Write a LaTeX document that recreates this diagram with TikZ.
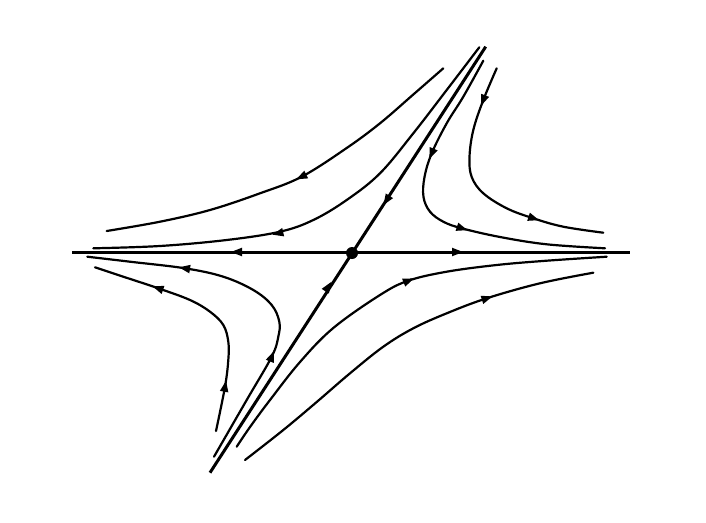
\documentclass[tikz,border=0pt]{standalone}
\begin{document}
\begin{tikzpicture}[x=1pt,y=-1pt,
  traj/.style={line width=2.2pt,line cap=round,line join=round},
  axis/.style={line width=3pt,line cap=butt}]
\newcommand\myarr[3]{\fill[shift={(#1,#2)},rotate=#3] (6,0) -- (-5,4.3) -- (-5,-4.3) -- cycle;}
\useasboundingbox (0,0) rectangle (706,522);
% axes
\coordinate (hl) at (72,252);
\coordinate (hr) at (630,252);
\coordinate (sb) at (210,472.7);
\coordinate (st) at (485.7,46.7);
\coordinate (O) at (352,253);
\draw[axis] (hl) -- (hr);
\draw[axis] (sb) -- (st);
\fill (O) circle (6);
% curve A
\draw[traj] plot[smooth,tension=0.6] coordinates {(443.3,68.3) (413.3,94.5) (380,123.3) (346.7,148) (301.7,176.7) (260,193.3) (210,210) (160,221.7) (106.7,231)};
% curve B
\draw[traj] plot[smooth,tension=0.6] coordinates {(479.3,47.3) (446.7,90) (413.3,133.3) (380,173.3) (346.7,200) (313.3,220) (280,231.7) (226.7,240) (160,246) (93.3,248.3)};
% curve C
\draw[traj] plot[smooth,tension=0.6] coordinates {(483.3,60.7) (463.3,96.7) (446.7,123.3) (431.7,153.3) (424.5,177) (423.5,197) (430,211.7) (443.3,221.7) (461.7,228.3) (500,237) (546.7,244.3) (605,248.3)};
% curve D
\draw[traj] plot[smooth,tension=0.6] coordinates {(496.7,68.3) (483.3,100) (473.3,130) (469.5,157) (471.7,177) (483.3,193.3) (506.7,208.3) (533.3,218.3) (563.3,226.7) (603.3,232.7)};
% curve E
\draw[traj] plot[smooth,tension=0.6] coordinates {(606.7,256.7) (546.7,260.7) (496.7,265) (446.7,271.7) (408.3,280.7) (380,295) (333.3,328) (300,362) (270,400) (250,427) (236.7,446.7)};
% curve F
\draw[traj] plot[smooth,tension=0.6] coordinates {(593.3,272.7) (540,283.3) (486.7,298.3) (446.7,313.3) (413.3,328.3) (383.3,346.7) (350,373.3) (316.7,402) (283.3,430) (245,460)};
% curve G
\draw[traj] plot[smooth,tension=0.6] coordinates {(87.3,256.7) (130,261.7) (185,268.3) (223.3,276.7) (253.3,290) (271.7,305) (279.3,321.7) (278.3,336.7) (271.7,356.7) (246.7,400) (214,456.7)};
% curve H
\draw[traj] plot[smooth,tension=0.6] coordinates {(95,267.3) (123.3,276.7) (158.3,288.3) (190,300) (210,311.7) (223.3,325) (228.3,341.7) (228.3,360) (225,386.7) (216,431)};
% arrowheads
\myarr{237}{252}{180}
\myarr{457}{252}{0}
\myarr{386.7}{200}{-122.8}
\myarr{328}{287}{57}
\myarr{301.7}{176.7}{206}
\myarr{278.3}{233.3}{193}
\myarr{431.7}{153.3}{247}
\myarr{461.7}{228.3}{-18}
\myarr{483.3}{100}{249}
\myarr{533.3}{218.3}{-18}
\myarr{408.3}{280.7}{22}
\myarr{486.7}{298.3}{18}
\myarr{271.7}{356.7}{68}
\myarr{185}{268.3}{171}
\myarr{225}{386.7}{80}
\myarr{158.3}{288.3}{161}
\end{tikzpicture}
\end{document}
